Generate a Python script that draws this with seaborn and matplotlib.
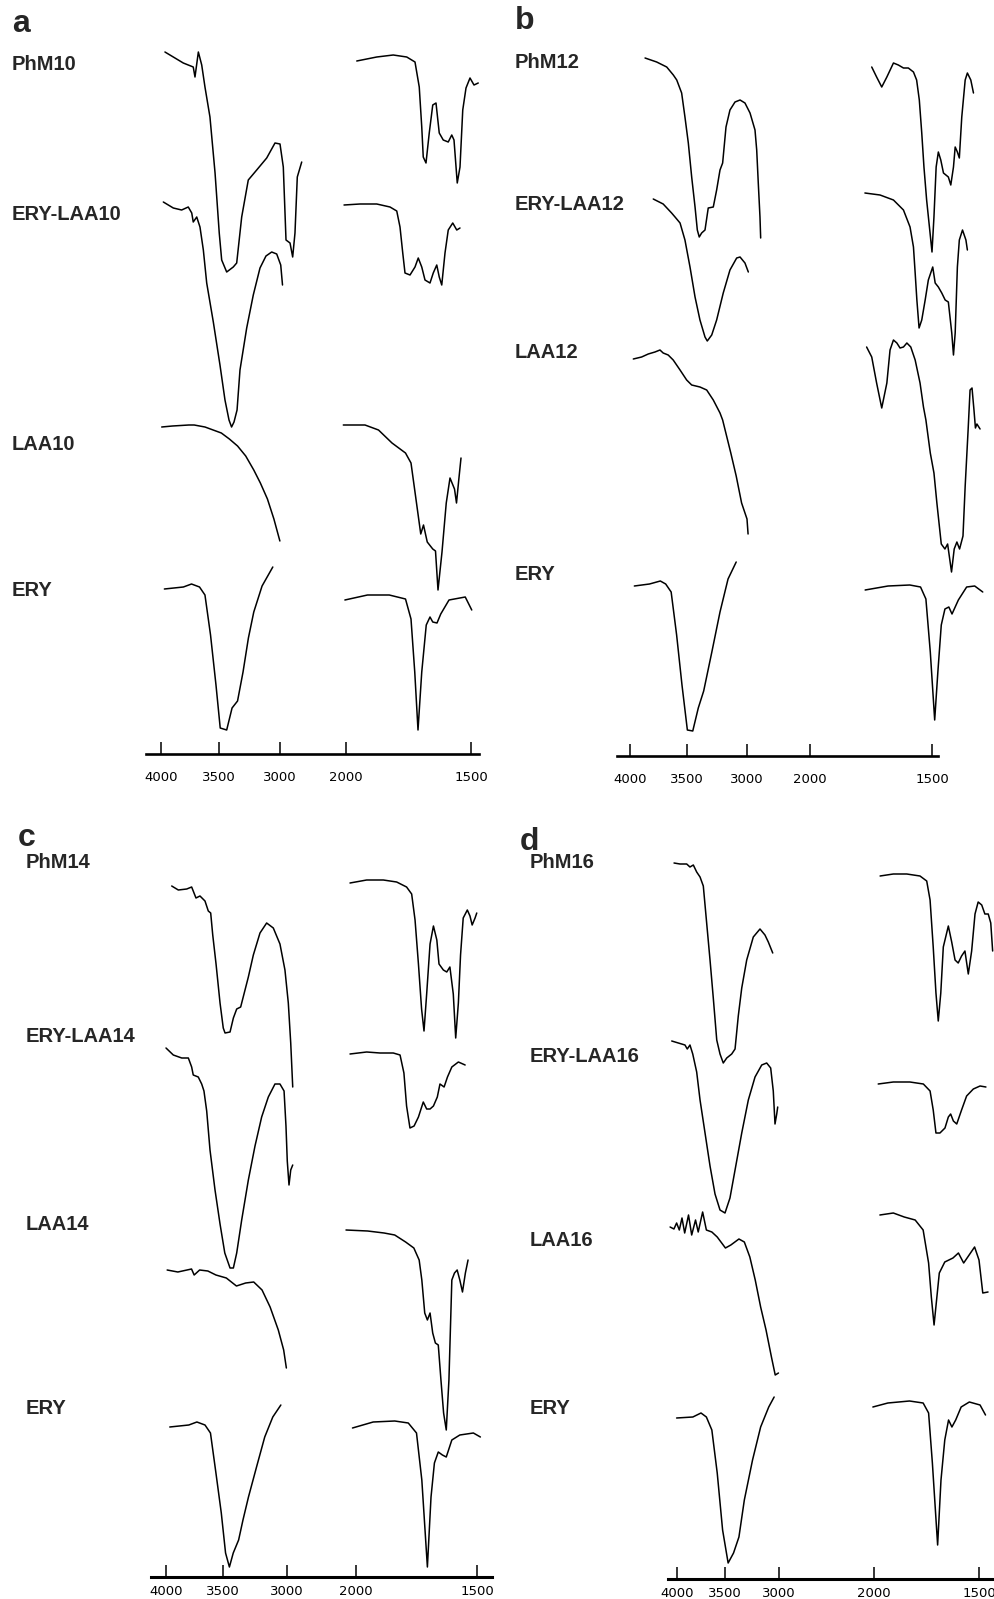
import numpy as np
import matplotlib
matplotlib.use("Agg")
import matplotlib.pyplot as plt
import seaborn as sns

# ---------------- data (wavenumber, stacked transmittance a.u.) ----------------
TICK_WN = [4000, 3500, 3000, 2000, 1500]
TICK_LABELS = ["4000", "3500", "3000", "2000", "1500"]

# panel a
A_PHM10_L_WN = [3966,3894,3808,3722,3707,3678,3649,3621,3578,3534,3498,3478,3437,3383,3355,3314,3260,3191,3109,3041,3000,2950,2909,2848,2808,2773,2738,2671]
A_PHM10_L_T = [702,697,691,687,677,702,689,667,637,581,521,494,482,487,491,537,574,584,596,611,610,587,514,511,497,521,577,592]
A_PHM10_R_WN = [1957,1877,1811,1757,1724,1707,1697,1691,1680,1667,1653,1640,1627,1611,1591,1577,1568,1555,1544,1533,1520,1504,1488,1471]
A_PHM10_R_T = [693,697,699,697,692,667,627,597,591,621,649,651,621,614,612,619,614,571,587,644,666,676,669,671]
A_ERYLAA10_L_WN = [3980,3894,3822,3765,3735,3722,3692,3664,3635,3606,3549,3492,3451,3418,3397,3377,3352,3328,3273,3219,3164,3115,3068,3027,2989,2962]
A_ERYLAA10_L_T = [552,546,544,547,541,532,537,527,504,471,432,389,354,334,327,332,344,384,426,459,486,498,502,500,489,469]
A_ERYLAA10_R_WN = [2030,1944,1877,1824,1797,1784,1773,1764,1744,1724,1711,1697,1684,1664,1651,1637,1627,1617,1604,1591,1573,1557,1544]
A_ERYLAA10_R_T = [549,550,550,547,543,527,501,481,479,487,496,487,474,471,481,489,477,469,501,524,531,524,526]
A_LAA10_L_WN = [3994,3901,3760,3714,3621,3527,3481,3415,3348,3281,3215,3161,3103,3050,3001]
A_LAA10_L_T = [327,328,329,329,327,323,321,315,308,298,284,271,255,235,213]
A_LAA10_R_WN = [2041,1924,1870,1816,1762,1740,1718,1701,1690,1675,1653,1642,1632,1616,1599,1584,1566,1558,1549,1540]
A_LAA10_R_T = [329,329,324,311,301,291,251,220,229,212,205,203,164,202,251,276,265,251,274,296]
A_ERY_L_WN = [3971,3807,3737,3668,3621,3573,3526,3490,3437,3393,3348,3303,3259,3215,3147,3059]
A_ERY_L_T = [165,167,170,167,159,119,69,26,24,46,53,82,116,142,168,187]
A_ERY_R_WN = [2017,1914,1827,1762,1740,1725,1712,1697,1679,1664,1653,1636,1621,1588,1523,1497]
A_ERY_R_T = [154,159,159,155,135,82,24,82,129,137,132,131,140,154,157,144]

# panel b
B_PHM12_L_WN = [3868,3766,3678,3620,3590,3547,3518,3489,3461,3433,3414,3398,3378,3350,3323,3281,3253,3225,3203,3175,3142,3100,3058,3017,2952,2873,2846,2821,2794,2783]
B_PHM12_L_T = [698,694,689,681,676,663,639,613,579,549,526,519,523,526,548,549,566,586,593,629,646,654,656,653,643,626,606,573,539,518]
B_PHM12_R_WN = [1747,1727,1706,1685,1658,1638,1617,1597,1576,1563,1552,1542,1533,1522,1508,1500,1492,1483,1474,1464,1453,1433,1423,1412,1405,1396,1388,1378,1364,1355,1341,1330]
B_PHM12_R_T = [689,679,669,679,693,691,688,688,684,676,656,623,589,556,523,504,539,589,604,596,583,579,571,589,609,604,598,639,676,683,676,663]
B_ERYLAA12_L_WN = [3796,3709,3635,3605,3561,3518,3475,3433,3392,3350,3331,3294,3253,3198,3142,3086,3058,3017,2979]
B_ERYLAA12_L_T = [557,552,543,539,533,516,489,459,436,419,415,421,436,463,486,498,499,493,484]
B_ERYLAA12_R_WN = [1775,1713,1658,1617,1590,1576,1569,1562,1553,1542,1528,1515,1497,1487,1474,1460,1446,1433,1419,1412,1405,1396,1388,1375,1361,1355]
B_ERYLAA12_R_T = [563,561,556,546,529,509,483,456,428,436,456,476,489,473,469,463,456,454,423,401,423,489,516,526,516,506]
B_LAA12_L_WN = [3971,3898,3840,3781,3737,3709,3665,3621,3561,3503,3461,3392,3336,3281,3225,3203,3135,3090,3045,3000,2983]
B_LAA12_L_T = [397,399,402,404,406,403,401,396,386,376,371,369,366,356,343,336,303,280,253,237,222]
B_LAA12_R_WN = [1768,1747,1727,1706,1685,1672,1658,1644,1631,1617,1603,1587,1569,1549,1535,1525,1507,1492,1480,1462,1447,1436,1420,1409,1398,1387,1373,1364,1352,1344,1336,1328,1322,1316,1303]
B_LAA12_R_T = [409,399,373,348,373,406,416,413,408,409,413,409,396,373,349,336,303,283,253,212,207,212,184,207,214,207,220,270,326,366,368,346,328,332,327]
B_ERY_L_WN = [3962,3829,3734,3687,3639,3591,3544,3497,3452,3406,3361,3293,3225,3158,3090]
B_ERY_L_T = [170,172,175,172,164,121,71,26,25,48,65,104,144,177,194]
B_ERY_R_WN = [1774,1680,1591,1547,1525,1507,1489,1476,1462,1447,1431,1418,1392,1358,1325,1292]
B_ERY_R_T = [166,170,171,169,157,104,36,84,131,147,149,142,156,169,170,164]

# panel c
C_PHM14_L_WN = [3950,3892,3818,3775,3737,3702,3658,3629,3608,3590,3561,3526,3498,3484,3445,3419,3393,3362,3336,3302,3263,3211,3159,3107,3055,3016,2981,2946,2917]
C_PHM14_L_T = [691,687,688,690,679,681,676,666,664,642,613,574,549,544,545,559,568,570,583,600,622,644,654,649,633,607,574,534,490]
C_PHM14_R_WN = [2087,1956,1887,1832,1791,1770,1756,1742,1729,1719,1708,1694,1680,1666,1657,1639,1625,1612,1598,1588,1577,1568,1557,1540,1529,1520,1508,1501]
C_PHM14_R_T = [694,697,697,695,690,683,657,613,568,546,583,633,651,637,613,607,605,610,583,539,574,622,659,667,661,652,659,664]
C_ERYLAA14_L_WN = [4000,3936,3862,3804,3775,3761,3717,3687,3667,3643,3614,3570,3526,3486,3445,3419,3393,3354,3302,3250,3198,3146,3094,3055,3023,3008,2996,2971,2946,2917]
C_ERYLAA14_L_T = [529,522,519,519,510,502,500,493,486,466,427,387,353,324,309,309,324,357,397,431,460,480,493,493,486,451,416,392,407,412]
C_ERYLAA14_R_WN = [2087,1956,1901,1846,1818,1802,1791,1777,1760,1742,1722,1708,1694,1680,1664,1653,1636,1622,1604,1577,1549]
C_ERYLAA14_R_T = [523,525,524,524,522,504,471,449,451,460,475,468,468,471,480,493,490,500,510,515,512]
C_LAA14_L_WN = [3990,3896,3776,3753,3705,3633,3562,3474,3395,3323,3260,3195,3132,3068,3026,3005]
C_LAA14_L_T = [307,305,308,302,307,306,302,299,291,294,295,287,270,247,227,209]
C_LAA14_R_WN = [2145,1952,1884,1840,1795,1761,1739,1728,1716,1705,1694,1683,1672,1660,1649,1638,1627,1616,1604,1593,1582,1571,1560,1548,1537]
C_LAA14_R_T = [347,346,344,342,335,329,317,297,264,257,264,244,234,232,197,164,147,197,297,304,307,297,285,304,317]
C_ERY_L_WN = [3967,3800,3729,3658,3610,3562,3515,3480,3450,3420,3378,3344,3301,3238,3174,3111,3048]
C_ERY_L_T = [150,152,155,152,144,104,64,24,10,24,37,57,80,110,140,160,172]
C_ERY_R_WN = [2051,1929,1840,1784,1750,1728,1705,1690,1676,1660,1643,1627,1604,1571,1515,1486]
C_ERY_R_T = [149,155,156,154,144,97,10,80,114,125,122,120,137,142,144,140]

# panel d
D_PHM16_L_WN = [4031,3969,3899,3865,3830,3795,3760,3726,3691,3656,3622,3586,3552,3518,3484,3438,3407,3377,3345,3299,3238,3176,3130,3099,3058]
D_PHM16_L_T = [716,715,715,712,714,707,702,693,656,619,581,539,525,516,521,525,530,563,591,619,642,650,644,637,626]
D_PHM16_R_WN = [1971,1908,1844,1781,1749,1733,1718,1705,1694,1682,1670,1646,1630,1614,1599,1583,1567,1551,1535,1519,1504,1487,1472,1456,1444,1435]
D_PHM16_R_T = [703,705,705,703,698,679,632,586,558,586,632,653,637,619,616,623,628,605,628,665,677,674,665,665,656,628]
D_ERYLAA16_L_WN = [4055,3986,3917,3893,3865,3836,3795,3760,3708,3656,3604,3552,3500,3454,3407,3345,3284,3222,3160,3114,3077,3053,3037,3021,3012]
D_ERYLAA16_L_T = [538,536,534,530,534,525,507,479,446,413,385,369,366,381,409,446,479,502,514,516,511,488,455,465,472]
D_ERYLAA16_R_WN = [1980,1908,1829,1765,1733,1718,1705,1686,1662,1646,1635,1622,1606,1583,1559,1527,1495,1467]
D_ERYLAA16_R_T = [495,497,497,495,488,469,446,446,451,462,465,458,455,469,483,490,493,492]
D_LAA16_L_WN = [4072,4032,4004,3976,3948,3920,3880,3847,3807,3779,3733,3694,3637,3581,3496,3446,3371,3321,3270,3220,3170,3120,3070,3035,3005]
D_LAA16_L_T = [352,350,356,349,361,346,364,344,359,347,367,349,347,342,331,334,340,337,322,299,272,249,222,204,206]
D_LAA16_R_WN = [1972,1908,1856,1804,1766,1740,1727,1714,1702,1689,1663,1624,1598,1573,1547,1521,1500,1482,1457]
D_LAA16_R_T = [364,366,362,359,349,316,282,254,279,306,317,321,326,316,324,332,319,286,287]
D_ERY_L_WN = [4004,3835,3750,3694,3637,3581,3525,3471,3421,3371,3321,3245,3170,3095,3045]
D_ERY_L_T = [161,162,166,162,149,106,49,16,26,42,79,119,152,172,182]
D_ERY_R_WN = [2012,1934,1831,1766,1740,1722,1697,1681,1663,1645,1629,1611,1585,1546,1495,1469]
D_ERY_R_T = [172,176,178,176,166,116,34,99,139,159,152,159,172,177,174,164]

A_NAMES = ["PhM10", "ERY-LAA10", "LAA10", "ERY"]
B_NAMES = ["PhM12", "ERY-LAA12", "LAA12", "ERY"]
C_NAMES = ["PhM14", "ERY-LAA14", "LAA14", "ERY"]
D_NAMES = ["PhM16", "ERY-LAA16", "LAA16", "ERY"]

# ---------------- layout / style ----------------
W, H = 994, 1599
sns.set_style("white")
plt.rcParams["font.family"] = ["Liberation Sans", "DejaVu Sans"]

fig = plt.figure(figsize=(W / 100, H / 100), dpi=100)


def make_scale(pos):
    """Piecewise-linear (broken) wavenumber axis; returns increasing-in-wn
    forward function (minus the horizontal position) and its inverse."""
    wn = np.array(TICK_WN, float)
    p = np.array(pos, float)
    sl = (p[1] - p[0]) / (wn[0] - wn[1])
    sr = (p[-1] - p[-2]) / (wn[-2] - wn[-1])

    def position(w):
        w = np.asarray(w, float)
        out = np.interp(-w, -wn, p)
        out = np.where(w > wn[0], p[0] + (wn[0] - w) * sl, out)
        out = np.where(w < wn[-1], p[-1] + (wn[-1] - w) * sr, out)
        return out

    def wavenumber(q):
        q = np.asarray(q, float)
        out = -np.interp(q, p, -wn)
        out = np.where(q < p[0], wn[0] + (p[0] - q) / sl, out)
        out = np.where(q > p[-1], wn[-1] - (q - p[-1]) / sr, out)
        return out

    def fwd(w):
        return -position(w)

    def inv(g):
        return wavenumber(-np.asarray(g, float))

    return fwd, inv, wavenumber


panels = [
    dict(letter="a", letter_xy=(12, 24), box=(146, 479, 30, 754), ticks=[161, 219, 280, 346, 471], pad=12.5, slw=1.9,
         names=A_NAMES, name_x=12, name_y=[64, 214, 445, 590],
         spectra=[(A_PHM10_L_WN, A_PHM10_L_T), (A_PHM10_R_WN, A_PHM10_R_T),
                  (A_ERYLAA10_L_WN, A_ERYLAA10_L_T), (A_ERYLAA10_R_WN, A_ERYLAA10_R_T),
                  (A_LAA10_L_WN, A_LAA10_L_T), (A_LAA10_R_WN, A_LAA10_R_T),
                  (A_ERY_L_WN, A_ERY_L_T), (A_ERY_R_WN, A_ERY_R_T)]),
    dict(letter="b", letter_xy=(515, 21), box=(617, 938, 30, 756), ticks=[630, 687, 747, 810, 932], pad=12.5, slw=1.9,
         names=B_NAMES, name_x=515, name_y=[62, 205, 353, 574],
         spectra=[(B_PHM12_L_WN, B_PHM12_L_T), (B_PHM12_R_WN, B_PHM12_R_T),
                  (B_ERYLAA12_L_WN, B_ERYLAA12_L_T), (B_ERYLAA12_R_WN, B_ERYLAA12_R_T),
                  (B_LAA12_L_WN, B_LAA12_L_T), (B_LAA12_R_WN, B_LAA12_R_T),
                  (B_ERY_L_WN, B_ERY_L_T), (B_ERY_R_WN, B_ERY_R_T)]),
    dict(letter="c", letter_xy=(18, 838), box=(151, 492, 830, 1577), ticks=[166, 223, 287, 356, 477], pad=6.0, slw=2.2,
         names=C_NAMES, name_x=26, name_y=[862, 1036, 1225, 1408],
         spectra=[(C_PHM14_L_WN, C_PHM14_L_T), (C_PHM14_R_WN, C_PHM14_R_T),
                  (C_ERYLAA14_L_WN, C_ERYLAA14_L_T), (C_ERYLAA14_R_WN, C_ERYLAA14_R_T),
                  (C_LAA14_L_WN, C_LAA14_L_T), (C_LAA14_R_WN, C_LAA14_R_T),
                  (C_ERY_L_WN, C_ERY_L_T), (C_ERY_R_WN, C_ERY_R_T)]),
    dict(letter="d", letter_xy=(520, 842), box=(668, 994, 830, 1579), ticks=[677, 725, 779, 874, 979], pad=6.0, slw=2.2,
         names=D_NAMES, name_x=530, name_y=[862, 1056, 1240, 1408],
         spectra=[(D_PHM16_L_WN, D_PHM16_L_T), (D_PHM16_R_WN, D_PHM16_R_T),
                  (D_ERYLAA16_L_WN, D_ERYLAA16_L_T), (D_ERYLAA16_R_WN, D_ERYLAA16_R_T),
                  (D_LAA16_L_WN, D_LAA16_L_T), (D_LAA16_R_WN, D_LAA16_R_T),
                  (D_ERY_L_WN, D_ERY_L_T), (D_ERY_R_WN, D_ERY_R_T)]),
]

for pn in panels:
    x0, x1, top, bottom = pn["box"]
    ax = fig.add_axes([x0 / W, 1 - bottom / H, (x1 - x0) / W, (bottom - top) / H])
    ax.patch.set_alpha(0)
    for wn, t in pn["spectra"]:
        sns.lineplot(x=wn, y=t, ax=ax, color="black", linewidth=1.1,
                     sort=False, estimator=None, legend=False)
    for ln in ax.lines:
        ln.set_clip_on(False)
    fwd, inv, wavenumber = make_scale(pn["ticks"])
    ax.set_xscale("function", functions=(fwd, inv))
    ax.set_xlim(float(wavenumber(x0)), float(wavenumber(x1)))
    ax.set_ylim(0, bottom - top)
    ax.set_xticks(TICK_WN)
    ax.set_xticklabels(TICK_LABELS, fontfamily="DejaVu Sans", fontsize=9.5)
    ax.xaxis.set_minor_locator(matplotlib.ticker.NullLocator())
    ax.set_yticks([])
    ax.set_xlabel("")
    ax.set_ylabel("")
    for side in ("left", "right", "top"):
        ax.spines[side].set_visible(False)
    ax.spines["bottom"].set_linewidth(pn["slw"])
    ax.spines["bottom"].set_color("black")
    ax.tick_params(axis="x", direction="in", length=8.6, width=1.1, pad=pn["pad"],
                   colors="black", bottom=True)

    lx, ly = pn["letter_xy"]
    fig.text(lx / W, 1 - ly / H, pn["letter"], fontsize=23, fontweight="bold",
             ha="left", va="center", family=["Liberation Sans", "DejaVu Sans"])
    for name, ny in zip(pn["names"], pn["name_y"]):
        fig.text(pn["name_x"] / W, 1 - ny / H, name, fontsize=14.5, fontweight="bold",
                 ha="left", va="center", family=["Liberation Sans", "DejaVu Sans"])

fig.savefig("out.png", dpi=100, facecolor="white")
